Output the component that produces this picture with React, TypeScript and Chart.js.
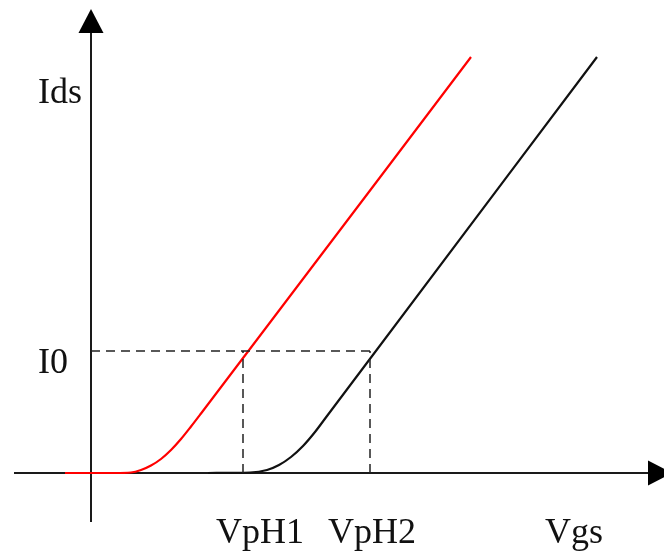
import React, { useEffect, useRef } from "react";
import { Chart, registerables } from "chart.js";

Chart.register(...registerables);

// Red curve (threshold VpH1)
const redVgs = [-2.6, 0, 2.4, 4.0, 5.0, 6.0, 7.0, 8.0, 9.0, 10.0, 11.0, 38.0];
const redIds = [0, 0, 0, 0.05, 0.3, 0.75, 1.4, 2.3, 3.4, 4.65, 5.95, 41.6];
// Black curve (threshold VpH2)
const blackVgs = [11.7, 15.9, 17.6, 18.8, 20.0, 21.2, 22.4, 23.6, 50.6];
const blackIds = [0, 0.05, 0.3, 0.8, 1.6, 2.7, 4.1, 5.7, 41.6];
// Reference levels
const I0 = 12.2;
const VpH1 = 15.2;
const VpH2 = 27.9;
// Axis extents (data units)
const xAxisRange = [-7.7, 58.1];
const yAxisRange = [-4.9, 46.4];
// Texts
const yTitle = "Ids";
const xTitle = "Vgs";
const levelLabel = "I0";
const thresholdLabels = ["VpH1", "VpH2"];

const pts = (xs: number[], ys: number[]) => xs.map((v, i) => ({ x: v, y: ys[i] }));

const overlay = {
  id: "overlay",
  beforeDatasetsDraw(chart: any) {
    const { ctx } = chart;
    const x = chart.scales.x;
    const y = chart.scales.y;
    const x0 = x.getPixelForValue(0);
    const y0 = y.getPixelForValue(0);
    const xs = x.getPixelForValue(xAxisRange[0]);
    const xe = x.getPixelForValue(xAxisRange[1]);
    const ys = y.getPixelForValue(yAxisRange[0]);
    const ye = y.getPixelForValue(yAxisRange[1]);
    const L = 24;
    const W = 12.5;
    ctx.save();
    ctx.strokeStyle = "#1a1a1a";
    ctx.fillStyle = "#000";
    ctx.lineWidth = 2;
    ctx.beginPath();
    ctx.moveTo(xs, y0);
    ctx.lineTo(xe - L, y0);
    ctx.stroke();
    ctx.beginPath();
    ctx.moveTo(xe, y0);
    ctx.lineTo(xe - L, y0 - W);
    ctx.lineTo(xe - L, y0 + W);
    ctx.closePath();
    ctx.fill();
    ctx.beginPath();
    ctx.moveTo(x0, ys);
    ctx.lineTo(x0, ye + L);
    ctx.stroke();
    ctx.beginPath();
    ctx.moveTo(x0, ye);
    ctx.lineTo(x0 - W, ye + L);
    ctx.lineTo(x0 + W, ye + L);
    ctx.closePath();
    ctx.fill();
    ctx.restore();
  },
  afterDatasetsDraw(chart: any) {
    const { ctx } = chart;
    const x = chart.scales.x;
    const y = chart.scales.y;
    const x0 = x.getPixelForValue(0);
    const y0 = y.getPixelForValue(0);
    const yI0 = y.getPixelForValue(I0);
    ctx.save();
    ctx.fillStyle = "#111";
    ctx.font = "36px 'Liberation Serif', 'Times New Roman', serif";
    ctx.textAlign = "left";
    ctx.textBaseline = "alphabetic";
    ctx.fillText(yTitle, x0 - 53, 103);
    ctx.fillText(levelLabel, x0 - 53, yI0 + 22);
    ctx.fillText(thresholdLabels[0], 216, y0 + 70);
    ctx.fillText(thresholdLabels[1], 328, y0 + 70);
    ctx.fillText(xTitle, 545, y0 + 70);
    ctx.restore();
  },
};

export default function App() {
  const ref = useRef<HTMLCanvasElement | null>(null);
  useEffect(() => {
    if (!ref.current) return;
    const dash = { borderColor: "#222", borderWidth: 1.5, borderDash: [9, 6], pointRadius: 0, tension: 0 };
    const chart = new Chart(ref.current, {
      type: "line",
      data: {
        datasets: [
          { ...dash, data: [{ x: 0, y: I0 }, { x: VpH2, y: I0 }] },
          { ...dash, data: [{ x: VpH1, y: 0 }, { x: VpH1, y: I0 }] },
          { ...dash, data: [{ x: VpH2, y: 0 }, { x: VpH2, y: I0 }] },
          {
            data: pts(redVgs, redIds),
            borderColor: "#ff0000",
            borderWidth: 2.2,
            pointRadius: 0,
            cubicInterpolationMode: "monotone",
          },
          {
            data: pts(blackVgs, blackIds),
            borderColor: "#111",
            borderWidth: 2.2,
            pointRadius: 0,
            cubicInterpolationMode: "monotone",
          },
        ],
      } as any,
      options: {
        animation: false,
        responsive: false,
        parsing: false as any,
        layout: { padding: 0 },
        plugins: { legend: { display: false }, tooltip: { enabled: false } },
        scales: {
          x: { type: "linear", min: -9.1, max: 57.3, display: false },
          y: { type: "linear", min: -8.3, max: 47.3, display: false },
        },
      },
      plugins: [overlay],
    });
    return () => chart.destroy();
  }, []);
  return (
    <div style={{ position: "fixed", left: 0, top: 0, width: 664, height: 556, background: "#fff" }}>
      <canvas ref={ref} width={664} height={556} style={{ display: "block" }} />
    </div>
  );
}
